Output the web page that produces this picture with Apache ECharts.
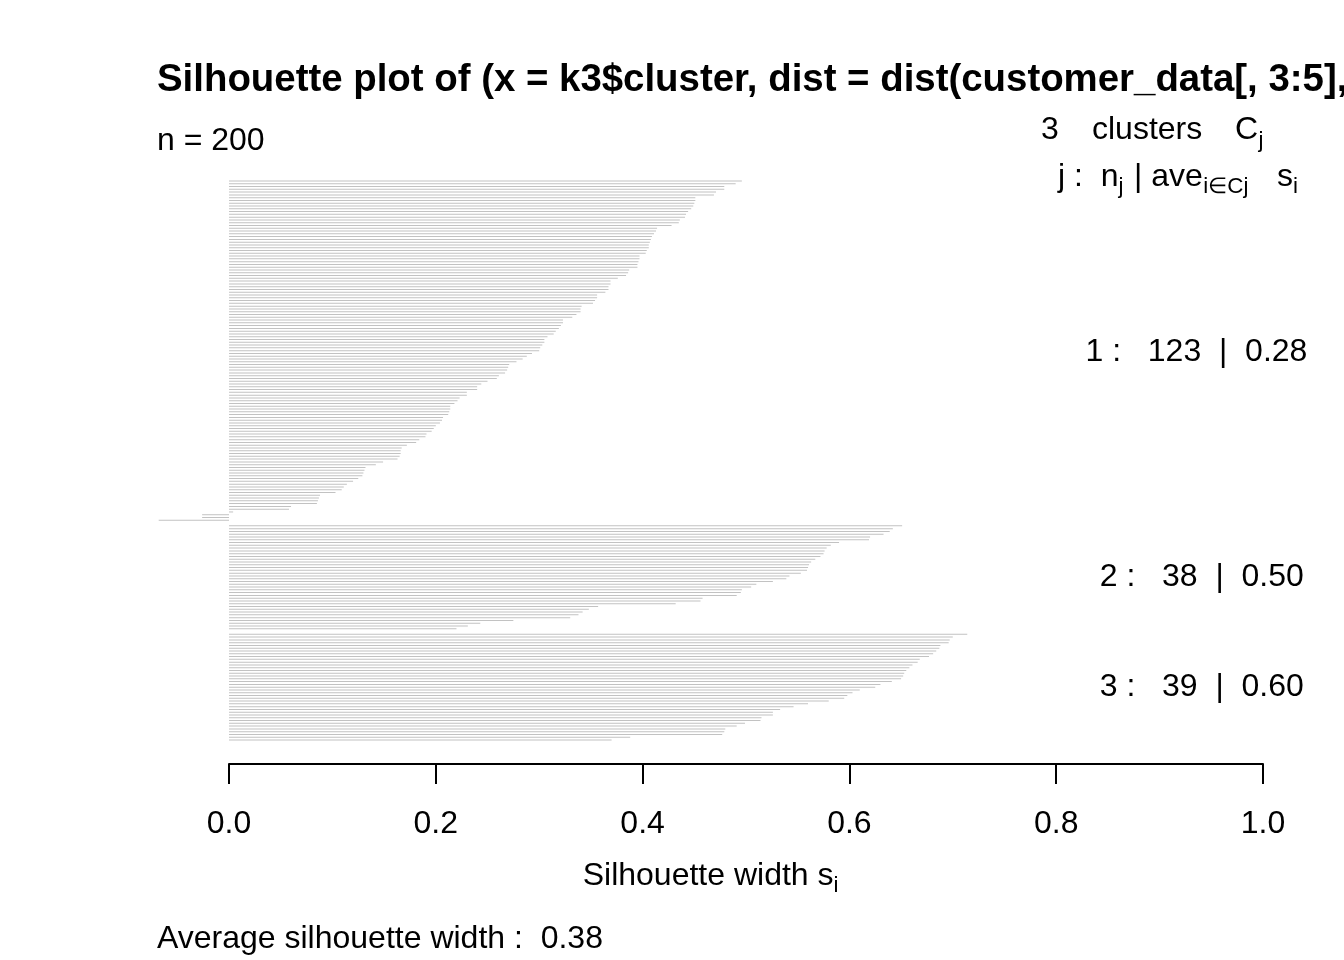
<!DOCTYPE html>
<html><head><meta charset="utf-8">
<script src="https://cdn.jsdelivr.net/npm/echarts@6/dist/echarts.min.js"></script>
<style>html,body{margin:0;padding:0;background:#fff}#c{width:1344px;height:960px}</style>
</head><body><div id="c"></div>
<script>
// ---- data (silhouette widths, sorted within each cluster) ----
const cluster1 = [0.496,0.490,0.479,0.479,0.471,0.469,0.451,0.451,0.450,0.449,0.447,0.444,0.442,0.441,0.436,0.435,0.428,0.414,0.413,0.411,0.409,0.408,
  0.407,0.406,0.406,0.404,0.403,0.397,0.397,0.396,0.395,0.395,0.387,0.386,0.384,0.376,0.369,0.369,0.367,0.367,0.364,0.356,0.356,
  0.354,0.352,0.341,0.340,0.340,0.336,0.332,0.323,0.323,0.321,0.319,0.316,0.314,0.308,0.305,0.305,0.303,0.301,0.300,0.293,0.288,
  0.284,0.278,0.271,0.270,0.269,0.267,0.261,0.259,0.250,0.244,0.240,0.240,0.230,0.230,0.223,0.221,0.218,0.214,0.214,0.213,0.212,0.207,
  0.206,0.204,0.200,0.198,0.196,0.191,0.190,0.184,0.181,0.172,0.167,0.166,0.166,0.165,0.163,0.149,0.142,0.132,0.131,0.130,0.129,
  0.125,0.120,0.114,0.111,0.109,0.103,0.088,0.087,0.086,0.085,0.060,0.058,0.004,-0.026,-0.026,-0.068];
const cluster2 = [0.651,0.642,0.639,0.633,0.620,0.619,0.590,0.582,0.578,0.576,0.575,0.572,0.567,0.563,0.561,0.560,0.559,0.553,0.542,0.539,
  0.526,0.510,0.505,0.496,0.495,0.491,0.458,0.456,0.432,0.357,0.348,0.342,0.338,0.330,0.275,0.243,0.231,0.220];
const cluster3 = [0.714,0.700,0.697,0.696,0.688,0.687,0.684,0.681,0.677,0.668,0.666,0.661,0.658,0.655,0.653,0.652,0.650,0.641,0.630,0.625,0.610,
  0.603,0.598,0.595,0.580,0.560,0.546,0.533,0.526,0.526,0.515,0.514,0.499,0.491,0.480,0.479,0.477,0.388,0.370];
const clusterIds = [1, 2, 3];
const clusterSizes = [123, 38, 39];
const clusterAvg = ['0.28', '0.50', '0.60'];
const avgWidth = '0.38';
const nObs = 200;
const xTicks = [0, 0.2, 0.4, 0.6, 0.8, 1.0];
const xTickLabels = ['0.0', '0.2', '0.4', '0.6', '0.8', '1.0'];
const titleText = 'Silhouette plot of (x = k3$cluster, dist = dist(customer_data[, 3:5],';

// ---- build bar data (one empty slot between clusters) ----
const groups = [cluster1, cluster2, cluster3];
const values = [], cats = [], ranges = [];
groups.forEach((g, gi) => {
  if (gi > 0) { values.push('-'); cats.push('gap' + gi); }
  const start = values.length;
  g.forEach(v => { cats.push('obs' + values.length); values.push(v); });
  ranges.push([start, values.length - 1]);
});

const FF = '"Liberation Sans", Arial, Helvetica, sans-serif';
const chart = echarts.init(document.getElementById('c'), null, {renderer: 'canvas'});

const X0 = 229, X1 = 1263, UNIT = X1 - X0;
const XMIN = -0.1, XMAX = 1.05;

chart.setOption({
  animation: false,
  backgroundColor: '#fff',
  grid: [
    {left: X0 + XMIN * UNIT, width: (XMAX - XMIN) * UNIT, top: 179.6, height: 561.8, containLabel: false},
    {left: X0, width: UNIT, top: 700, height: 64, containLabel: false}
  ],
  xAxis: [
    {gridIndex: 0, type: 'value', min: XMIN, max: XMAX, show: false, splitLine: {show: false}},
    {gridIndex: 1, type: 'value', min: 0, max: 1, interval: 0.2,
     axisLine: {show: true, lineStyle: {color: '#000', width: 2}},
     axisTick: {show: true, inside: false, length: 20, lineStyle: {color: '#000', width: 2}},
     splitLine: {show: false},
     axisLabel: {show: true, color: '#000', fontSize: 32, fontFamily: FF, margin: 44,
       formatter: v => xTickLabels[Math.round(v / 0.2)]}}
  ],
  yAxis: [
    {gridIndex: 0, type: 'category', data: cats, inverse: true, show: false},
    {gridIndex: 1, type: 'value', show: false}
  ],
  series: [{
    type: 'bar', xAxisIndex: 0, yAxisIndex: 0, data: values,
    barWidth: 1, silent: true,
    itemStyle: {color: '#c2c2c2'}
  }]
});

// ---- text annotations ----
const DY = 2;
function txt(s, x, y, size, bold) {
  return {type: 'text', x: x, y: y + DY, silent: true,
    style: {text: s, fill: '#000', font: (bold ? 'bold ' : '') + size + 'px ' + FF,
      align: 'left', verticalAlign: 'middle', textAlign: 'left', textVerticalAlign: 'middle'}};
}
const ctx = document.createElement('canvas').getContext('2d');
function measure(s, size) { ctx.font = size + 'px ' + FF; return ctx.measureText(s).width; }

const els = [];
els.push(txt(titleText, 157, 78, 38.4, true));
els.push(txt('n = ' + nObs, 157, 139, 32));
// header line 1
els.push(txt(String(clusterIds.length), 1041, 128, 32));
els.push(txt('clusters', 1092, 128, 32));
els.push(txt('C', 1235, 128, 32));
els.push(txt('j', 1235 + measure('C', 32) + 0.5, 139, 22.4));
// header line 2
let hx = 1058;
els.push(txt('j :  n', hx, 175, 32)); hx += measure('j :  n', 32);
els.push(txt('j', hx, 185, 22.4));
els.push(txt('| ave', 1134, 175, 32));
els.push(txt('i\u2208Cj', 1134 + measure('| ave', 32) + 0.5, 185, 22.4));
els.push(txt('s', 1277, 175, 32));
els.push(txt('i', 1277 + measure('s', 32), 185, 22.4));
// cluster statistics
const xOne = chart.convertToPixel({xAxisIndex: 0}, 1);
clusterIds.forEach((id, j) => {
  const s = id + ' :   ' + clusterSizes[j] + '  |  ' + clusterAvg[j];
  const yA = chart.convertToPixel({yAxisIndex: 0}, ranges[j][0]);
  const yB = chart.convertToPixel({yAxisIndex: 0}, ranges[j][1]);
  const w = measure(s, 32);
  els.push(txt(s, xOne - 0.8 * w, (yA + yB) / 2 - (j === 0 ? 0 : 2), 32));
});
// x label
const xl = 'Silhouette width s';
const wl = measure(xl, 32) + measure('i', 22.4);
const xStart = 710.6 - wl / 2;
els.push(txt(xl, xStart, 874, 32));
els.push(txt('i', xStart + measure(xl, 32), 884, 22.4));
els.push(txt('Average silhouette width :  ' + avgWidth, 157, 937, 32));

chart.setOption({graphic: {elements: els}});
</script></body></html>
